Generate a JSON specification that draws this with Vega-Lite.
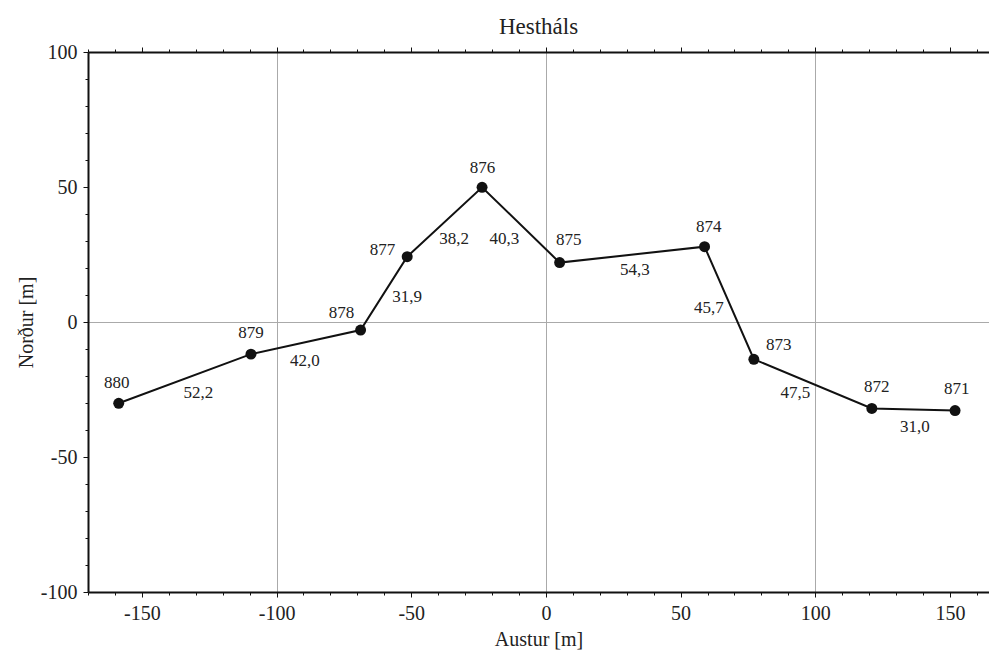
{
  "$schema": "https://vega.github.io/schema/vega-lite/v6.json",
  "width": 901,
  "height": 540,
  "autosize": "none",
  "padding": {"left": 88, "top": 52, "right": 0, "bottom": 61},
  "background": "white",
  "title": {"text": "Hestháls", "font": "Times New Roman", "fontSize": 23, "fontWeight": "normal", "color": "#222", "offset": 3},
  "config": {"view": {"stroke": null}, "font": "Times New Roman"},
  "datasets": {
    "pts": [
      {"id": "880", "x": -158.6, "y": -30.1, "o": 1},
      {"id": "879", "x": -109.5, "y": -11.9, "o": 2},
      {"id": "878", "x": -68.8, "y": -3.0, "o": 3},
      {"id": "877", "x": -51.5, "y": 24.2, "o": 4},
      {"id": "876", "x": -23.7, "y": 49.9, "o": 5},
      {"id": "875", "x": 5.1, "y": 22.0, "o": 6},
      {"id": "874", "x": 58.9, "y": 27.9, "o": 7},
      {"id": "873", "x": 77.2, "y": -13.8, "o": 8},
      {"id": "872", "x": 121.0, "y": -32.0, "o": 9},
      {"id": "871", "x": 151.9, "y": -32.8, "o": 10}
    ],
    "labels": [
      {"text": "880", "x": -159.3, "y": -22.5},
      {"text": "879", "x": -109.5, "y": -4.2},
      {"text": "878", "x": -75.9, "y": 3.3},
      {"text": "877", "x": -60.7, "y": 26.7},
      {"text": "876", "x": -23.5, "y": 57.0},
      {"text": "875", "x": 8.5, "y": 30.2},
      {"text": "874", "x": 60.5, "y": 35.3},
      {"text": "873", "x": 86.4, "y": -8.5},
      {"text": "872", "x": 122.8, "y": -24.2},
      {"text": "871", "x": 152.5, "y": -24.9},
      {"text": "52,2", "x": -129.0, "y": -26.4},
      {"text": "42,0", "x": -89.5, "y": -14.3},
      {"text": "31,9", "x": -51.5, "y": 9.4},
      {"text": "38,2", "x": -34.1, "y": 30.7},
      {"text": "40,3", "x": -15.4, "y": 30.6},
      {"text": "54,3", "x": 33.0, "y": 19.3},
      {"text": "45,7", "x": 60.5, "y": 5.1},
      {"text": "47,5", "x": 92.6, "y": -26.2},
      {"text": "31,0", "x": 137.0, "y": -38.8}
    ]
  },
  "resolve": {"axis": {"x": "independent", "y": "independent"}},
  "layer": [
    {
      "layer": [
        {
          "data": {"name": "pts"},
          "mark": {"type": "line", "color": "#111", "strokeWidth": 2},
          "encoding": {
            "x": {"field": "x", "type": "quantitative", "scale": {"domain": [-170, 164.5], "nice": false, "zero": false}},
            "y": {"field": "y", "type": "quantitative", "scale": {"domain": [-100, 100], "nice": false}},
            "order": {"field": "o"}
          }
        },
        {
          "data": {"name": "pts"},
          "mark": {"type": "point", "filled": true, "color": "#111", "opacity": 1, "size": 120},
          "encoding": {
            "x": {"field": "x", "type": "quantitative"},
            "y": {"field": "y", "type": "quantitative"}
          }
        },
        {
          "data": {"name": "labels"},
          "mark": {"type": "text", "font": "Times New Roman", "fontSize": 17, "color": "#222", "baseline": "middle", "align": "center"},
          "encoding": {
            "x": {"field": "x", "type": "quantitative"},
            "y": {"field": "y", "type": "quantitative"},
            "text": {"field": "text"}
          }
        }
      ],
      "encoding": {
        "x": {
          "field": "x", "type": "quantitative",
          "axis": {
            "orient": "bottom", "title": "Austur [m]",
            "values": [-170,-160,-150,-140,-130,-120,-110,-100,-90,-80,-70,-60,-50,-40,-30,-20,-10,0,10,20,30,40,50,60,70,80,90,100,110,120,130,140,150,160],
            "labelExpr": "datum.value % 50 === 0 ? '' + datum.value : ''",
            "labelOverlap": false, "labelFlush": false,
            "labelFont": "Times New Roman", "labelFontSize": 20, "labelColor": "#222", "labelPadding": 6,
            "titleFont": "Times New Roman", "titleFontSize": 20, "titleFontWeight": "normal", "titleColor": "#222", "titlePadding": 6,
            "domainColor": "#111", "domainWidth": 2,
            "tickColor": "#111", "tickWidth": 1,
            "tickSize": {"condition": {"test": "datum.value % 50 === 0", "value": 5}, "value": 3},
            "grid": true, "gridColor": "#aaa", "gridWidth": 1,
            "gridOpacity": {"condition": {"test": "datum.value % 100 === 0", "value": 1}, "value": 0}
          }
        },
        "y": {
          "field": "y", "type": "quantitative",
          "axis": {
            "orient": "left", "title": "Norður [m]",
            "values": [-100,-90,-80,-70,-60,-50,-40,-30,-20,-10,0,10,20,30,40,50,60,70,80,90,100],
            "labelExpr": "datum.value % 50 === 0 ? '' + datum.value : ''",
            "labelOverlap": false, "labelFlush": false,
            "labelFont": "Times New Roman", "labelFontSize": 20, "labelColor": "#222", "labelPadding": 6,
            "titleFont": "Times New Roman", "titleFontSize": 20, "titleFontWeight": "normal", "titleColor": "#222", "titlePadding": 4,
            "domainColor": "#111", "domainWidth": 2,
            "tickColor": "#111", "tickWidth": 1,
            "tickSize": {"condition": {"test": "datum.value % 50 === 0", "value": 5}, "value": 3},
            "grid": true, "gridColor": "#aaa", "gridWidth": 1,
            "gridOpacity": {"condition": {"test": "datum.value === 0", "value": 1}, "value": 0}
          }
        }
      }
    },
    {
      "data": {"name": "pts"},
      "mark": {"type": "point", "opacity": 0},
      "encoding": {
        "x": {
          "field": "x", "type": "quantitative",
          "axis": {
            "orient": "top", "title": null, "labels": false, "grid": false,
            "values": [-170,-160,-150,-140,-130,-120,-110,-100,-90,-80,-70,-60,-50,-40,-30,-20,-10,0,10,20,30,40,50,60,70,80,90,100,110,120,130,140,150,160],
            "domainColor": "#111", "domainWidth": 2,
            "tickColor": "#111", "tickWidth": 1,
            "tickSize": {"condition": {"test": "datum.value % 50 === 0", "value": 5}, "value": 3}
          }
        }
      }
    }
  ]
}
